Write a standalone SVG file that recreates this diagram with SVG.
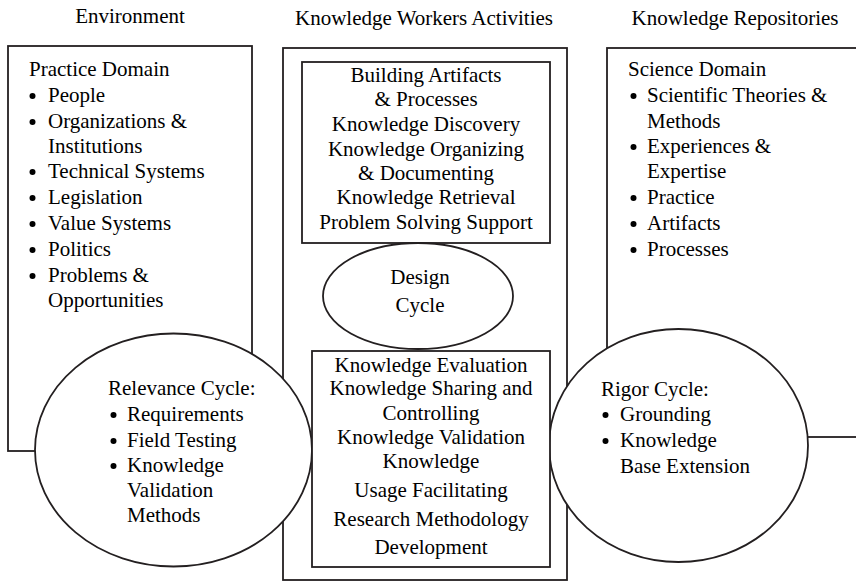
<svg xmlns="http://www.w3.org/2000/svg" width="856" height="582" viewBox="0 0 856 582">
<rect width="856" height="582" fill="#fff"/>
<g id="titles">
<text font-family="Liberation Serif" font-size="21" text-anchor="middle" x="130" y="23">Environment</text>
<text font-family="Liberation Serif" font-size="21" text-anchor="middle" x="424" y="25">Knowledge Workers Activities</text>
<text font-family="Liberation Serif" font-size="21" text-anchor="middle" x="735" y="25">Knowledge Repositories</text>
</g>
<g id="environment">
<rect x="8" y="46" width="244" height="405" fill="#fff" stroke="#231f20" stroke-width="1.8"/>
<text font-family="Liberation Serif" font-size="21" x="29" y="76">Practice Domain</text>
<circle cx="32.5" cy="96" r="3"/><text font-family="Liberation Serif" font-size="21" x="48" y="102">People</text>
<circle cx="32.5" cy="122" r="3"/><text font-family="Liberation Serif" font-size="21" x="48" y="128">Organizations &amp;</text>
<text font-family="Liberation Serif" font-size="21" x="48" y="153">Institutions</text>
<circle cx="32.5" cy="172" r="3"/><text font-family="Liberation Serif" font-size="21" x="48" y="178">Technical Systems</text>
<circle cx="32.5" cy="198" r="3"/><text font-family="Liberation Serif" font-size="21" x="48" y="204">Legislation</text>
<circle cx="32.5" cy="224" r="3"/><text font-family="Liberation Serif" font-size="21" x="48" y="230">Value Systems</text>
<circle cx="32.5" cy="250" r="3"/><text font-family="Liberation Serif" font-size="21" x="48" y="256">Politics</text>
<circle cx="32.5" cy="276" r="3"/><text font-family="Liberation Serif" font-size="21" x="48" y="282">Problems &amp;</text>
<text font-family="Liberation Serif" font-size="21" x="48" y="307">Opportunities</text>
</g>
<g id="repositories">
<rect x="607" y="48" width="260" height="389" fill="#fff" stroke="#231f20" stroke-width="1.8"/>
<text font-family="Liberation Serif" font-size="21" x="628" y="76">Science Domain</text>
<circle cx="633.5" cy="96" r="3"/><text font-family="Liberation Serif" font-size="21" x="647" y="102">Scientific Theories &amp;</text>
<text font-family="Liberation Serif" font-size="21" x="647" y="128">Methods</text>
<circle cx="633.5" cy="147" r="3"/><text font-family="Liberation Serif" font-size="21" x="647" y="153">Experiences &amp;</text>
<text font-family="Liberation Serif" font-size="21" x="647" y="178">Expertise</text>
<circle cx="633.5" cy="198" r="3"/><text font-family="Liberation Serif" font-size="21" x="647" y="204">Practice</text>
<circle cx="633.5" cy="224" r="3"/><text font-family="Liberation Serif" font-size="21" x="647" y="230">Artifacts</text>
<circle cx="633.5" cy="250" r="3"/><text font-family="Liberation Serif" font-size="21" x="647" y="256">Processes</text>
</g>
<g id="activities">
<rect x="283" y="48" width="284" height="532" fill="#fff" stroke="#231f20" stroke-width="1.8"/>
</g>
<g id="relevance-cycle">
<ellipse cx="173.5" cy="450" rx="138.5" ry="116.5" fill="#fff" stroke="#231f20" stroke-width="1.8"/>
<text font-family="Liberation Serif" font-size="21" x="108" y="395">Relevance Cycle:</text>
<circle cx="113.5" cy="415" r="3"/><text font-family="Liberation Serif" font-size="21" x="127" y="421">Requirements</text>
<circle cx="113.5" cy="441" r="3"/><text font-family="Liberation Serif" font-size="21" x="127" y="447">Field Testing</text>
<circle cx="113.5" cy="466" r="3"/><text font-family="Liberation Serif" font-size="21" x="127" y="472">Knowledge</text>
<text font-family="Liberation Serif" font-size="21" x="127" y="497">Validation</text>
<text font-family="Liberation Serif" font-size="21" x="127" y="522">Methods</text>
</g>
<g id="rigor-cycle">
<ellipse cx="678.5" cy="445.5" rx="129.5" ry="116.5" fill="#fff" stroke="#231f20" stroke-width="1.8"/>
<text font-family="Liberation Serif" font-size="21" x="601" y="396">Rigor Cycle:</text>
<circle cx="605.5" cy="415" r="3"/><text font-family="Liberation Serif" font-size="21" x="620" y="421">Grounding</text>
<circle cx="605.5" cy="441" r="3"/><text font-family="Liberation Serif" font-size="21" x="620" y="447">Knowledge</text>
<text font-family="Liberation Serif" font-size="21" x="620" y="473">Base Extension</text>
</g>
<g id="design-activities">
<rect x="302" y="62" width="248" height="181" fill="#fff" stroke="#231f20" stroke-width="1.8"/>
<text font-family="Liberation Serif" font-size="21" text-anchor="middle" x="426" y="82">Building Artifacts</text>
<text font-family="Liberation Serif" font-size="21" text-anchor="middle" x="426" y="106">&amp; Processes</text>
<text font-family="Liberation Serif" font-size="21" text-anchor="middle" x="426" y="131">Knowledge Discovery</text>
<text font-family="Liberation Serif" font-size="21" text-anchor="middle" x="426" y="156">Knowledge Organizing</text>
<text font-family="Liberation Serif" font-size="21" text-anchor="middle" x="426" y="180">&amp; Documenting</text>
<text font-family="Liberation Serif" font-size="21" text-anchor="middle" x="426" y="204">Knowledge Retrieval</text>
<text font-family="Liberation Serif" font-size="21" text-anchor="middle" x="426" y="229">Problem Solving Support</text>
</g>
<g id="design-cycle">
<ellipse cx="418" cy="296" rx="95" ry="53" fill="#fff" stroke="#231f20" stroke-width="1.8"/>
<text font-family="Liberation Serif" font-size="21" text-anchor="middle" x="420" y="284">Design</text>
<text font-family="Liberation Serif" font-size="21" text-anchor="middle" x="420" y="312">Cycle</text>
</g>
<g id="evaluation-activities">
<rect x="312" y="351" width="238" height="216" fill="#fff" stroke="#231f20" stroke-width="1.8"/>
<text font-family="Liberation Serif" font-size="21" text-anchor="middle" x="431" y="372">Knowledge Evaluation</text>
<text font-family="Liberation Serif" font-size="21" text-anchor="middle" x="431" y="395">Knowledge Sharing and</text>
<text font-family="Liberation Serif" font-size="21" text-anchor="middle" x="431" y="420">Controlling</text>
<text font-family="Liberation Serif" font-size="21" text-anchor="middle" x="431" y="444">Knowledge Validation</text>
<text font-family="Liberation Serif" font-size="21" text-anchor="middle" x="431" y="468">Knowledge</text>
<text font-family="Liberation Serif" font-size="21" text-anchor="middle" x="431" y="497">Usage Facilitating</text>
<text font-family="Liberation Serif" font-size="21" text-anchor="middle" x="431" y="526">Research Methodology</text>
<text font-family="Liberation Serif" font-size="21" text-anchor="middle" x="431" y="554">Development</text>
</g>
<g id="connectors"></g>
</svg>
